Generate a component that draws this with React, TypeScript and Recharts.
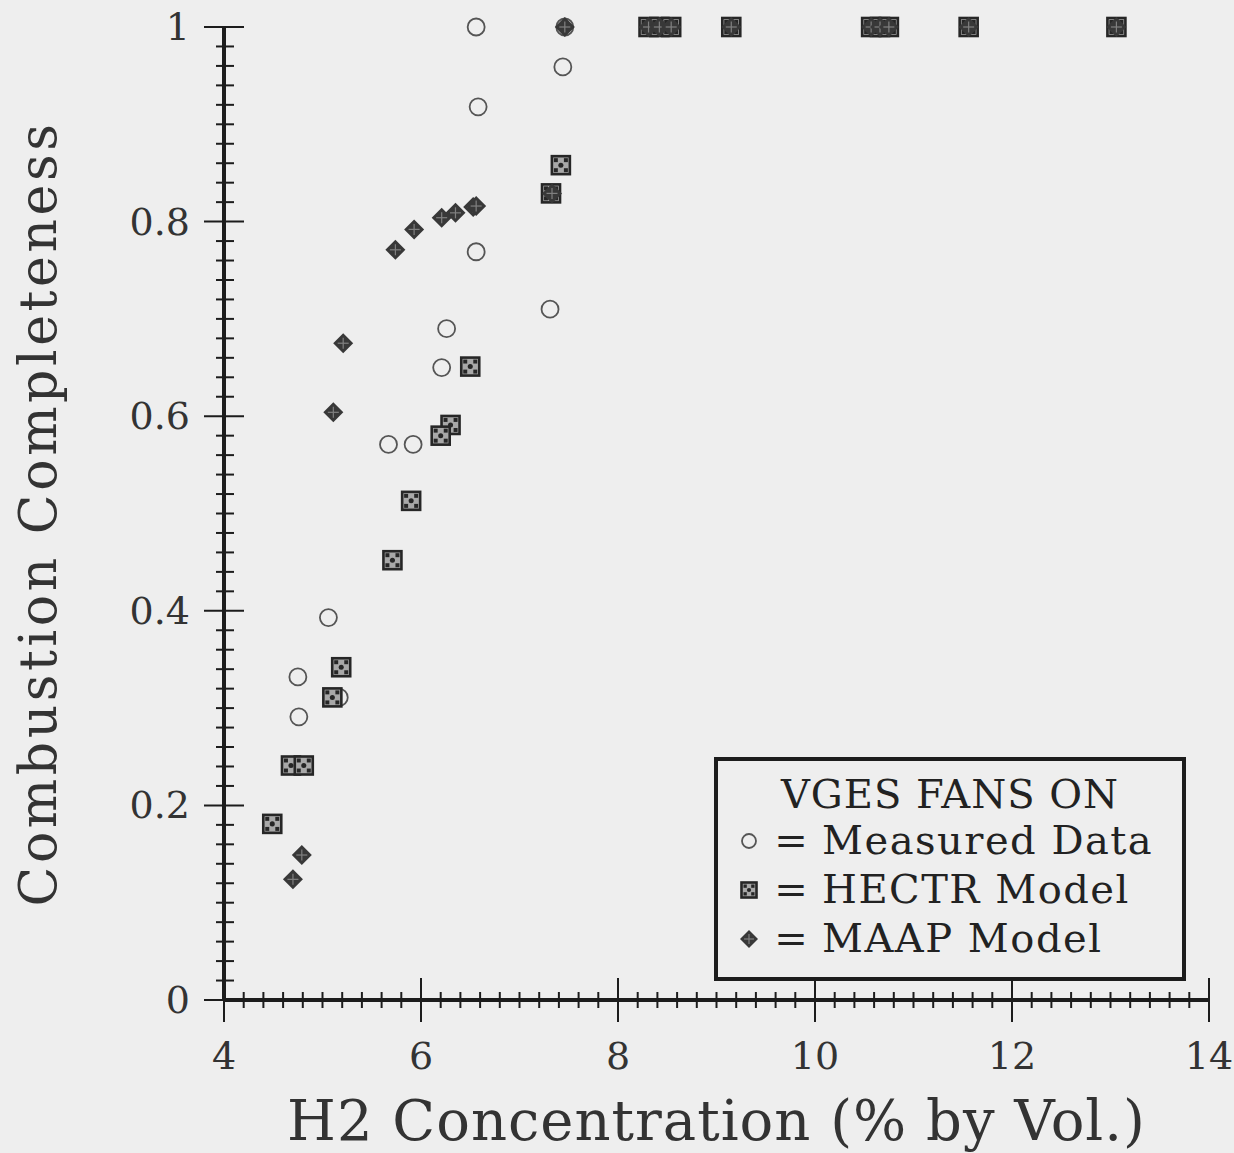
import React from 'react';
import { ScatterChart, Scatter, XAxis, YAxis, Legend } from 'recharts';

// H2 concentration (% by vol.) and combustion completeness for each series
const measuredX = [6.56, 7.46, 7.44, 6.58, 6.56, 7.31, 6.26, 6.21, 5.67, 5.92, 5.06, 4.75, 5.17, 4.76];
const measuredY = [1.0, 1.0, 0.959, 0.918, 0.769, 0.71, 0.69, 0.65, 0.571, 0.571, 0.393, 0.332, 0.311, 0.291];

const hectrX = [7.42, 7.32, 6.5, 6.3, 6.2, 5.9, 5.71, 5.19, 5.1, 4.68, 4.81, 4.49, 8.31, 8.42, 8.54, 9.15, 10.57, 10.66, 10.75, 11.56, 13.06];
const hectrY = [0.858, 0.829, 0.651, 0.591, 0.58, 0.513, 0.452, 0.342, 0.311, 0.241, 0.241, 0.181, 1, 1, 1, 1, 1, 1, 1, 1, 1];

const maapX = [7.46, 6.53, 6.56, 6.35, 6.21, 5.93, 5.74, 5.21, 5.11, 4.79, 4.7, 7.33, 8.31, 8.42, 8.54, 9.15, 10.57, 10.66, 10.75, 11.56, 13.06];
const maapY = [1, 0.815, 0.816, 0.809, 0.804, 0.792, 0.771, 0.675, 0.604, 0.149, 0.124, 0.829, 1, 1, 1, 1, 1, 1, 1, 1, 1];

const xLabelTicks = [4, 6, 8, 10, 12, 14];
const yLabelTicks = [0, 0.2, 0.4, 0.6, 0.8, 1];

const legendTitle = 'VGES FANS ON';
const seriesNames = ['Measured Data', 'HECTR Model', 'MAAP Model'];

const toPoints = (xs: number[], ys: number[]) => xs.map((x, i) => ({ x, y: ys[i] }));
const measured = toPoints(measuredX, measuredY);
const hectr = toPoints(hectrX, hectrY);
const maap = toPoints(maapX, maapY);

// minor tick positions: every 0.2 on x, every 0.02 on y
const xTicks = Array.from({ length: 51 }, (_, i) => Math.round((4 + i * 0.2) * 10) / 10);
const yTicks = Array.from({ length: 51 }, (_, i) => Math.round(i * 2) / 100);

const INK = '#1c1c1c';
const BG = '#eeeeee';
const FONT = '"DejaVu Serif", serif';

const isLabelX = (v: number) => xLabelTicks.some((t) => Math.abs(t - v) < 1e-6);
const isLabelY = (v: number) => yLabelTicks.some((t) => Math.abs(t - v) < 1e-6);

const CircleMark = ({ cx, cy, r = 8.5 }: any) => (
  <circle cx={cx} cy={cy} r={r} fill="none" stroke="#555" strokeWidth={1.8} />
);

const SquareMark = ({ cx, cy, s = 18 }: any) => {
  const h = s / 2;
  const d = s * 0.22;
  return (
    <g>
      <rect x={cx - h} y={cy - h} width={s} height={s} fill="#a8a8a8" stroke="#262626" strokeWidth={2.6} />
      <rect x={cx - h + 2} y={cy - h + 2} width={d} height={d} fill="#262626" />
      <rect x={cx + h - 2 - d} y={cy - h + 2} width={d} height={d} fill="#262626" />
      <rect x={cx - h + 2} y={cy + h - 2 - d} width={d} height={d} fill="#262626" />
      <rect x={cx + h - 2 - d} y={cy + h - 2 - d} width={d} height={d} fill="#262626" />
      <circle cx={cx} cy={cy} r={s * 0.14} fill="#262626" />
    </g>
  );
};

const DiamondMark = ({ cx, cy, s = 10 }: any) => (
  <g>
    <polygon points={`${cx},${cy - s} ${cx + s},${cy} ${cx},${cy + s} ${cx - s},${cy}`} fill="#383838" />
    <line x1={cx - s * 0.55} x2={cx + s * 0.55} y1={cy} y2={cy} stroke="#808080" strokeWidth={1.2} />
    <line x1={cx} x2={cx} y1={cy - s * 0.55} y2={cy + s * 0.55} stroke="#808080" strokeWidth={1.2} />
  </g>
);

const BottomTick = ({ x, y, payload }: any) => {
  const v = payload.value;
  const big = isLabelX(v);
  return (
    <g>
      <line x1={x} x2={x} y1={y - (big ? 22 : 8)} y2={y + (big ? 22 : 8)} stroke={INK} strokeWidth={2} />
      {big && (
        <text x={x} y={y + 69} textAnchor="middle" fontSize={38} fontFamily={FONT} fill="#333">
          {v}
        </text>
      )}
    </g>
  );
};

const TopTick = ({ x, y, payload }: any) => {
  const big = isLabelX(payload.value);
  return <line x1={x} x2={x} y1={y} y2={y + (big ? 22 : 11)} stroke={INK} strokeWidth={2} />;
};

const LeftTick = ({ x, y, payload }: any) => {
  const v = payload.value;
  const big = isLabelY(v);
  return (
    <g>
      <line x1={x - (big ? 20 : 8)} x2={x + (big ? 20 : 10)} y1={y} y2={y} stroke={INK} strokeWidth={2} />
      {big && (
        <text x={x - 34} y={y + 13} textAnchor="end" fontSize={38} fontFamily={FONT} fill="#333">
          {v}
        </text>
      )}
    </g>
  );
};

const RightTick = ({ x, y, payload }: any) => {
  const big = isLabelY(payload.value);
  return <line x1={x - (big ? 20 : 9)} x2={x} y1={y} y2={y} stroke={INK} strokeWidth={2} />;
};

const LegendBox = () => {
  const marks = [
    <CircleMark key="c" cx={35} cy={84} r={7} />,
    <SquareMark key="s" cx={35} cy={133} s={15} />,
    <DiamondMark key="d" cx={35} cy={182} s={9} />,
  ];
  return (
    <svg width={472} height={224} style={{ display: 'block' }}>
      <rect x={2} y={2} width={468} height={220} fill={BG} stroke={INK} strokeWidth={4} />
      <text x={236} y={51} textAnchor="middle" fontSize={40} letterSpacing={1} fontFamily={FONT} fill="#222">
        {legendTitle}
      </text>
      {seriesNames.map((name, i) => (
        <g key={name}>
          {marks[i]}
          <text x={77} y={97 + i * 49} textAnchor="middle" fontSize={40} fontFamily={FONT} fill="#222">
            =
          </text>
          <text x={108} y={97 + i * 49} fontSize={40} letterSpacing={1.5} fontFamily={FONT} fill="#222">
            {name}
          </text>
        </g>
      ))}
    </svg>
  );
};

export default function App() {
  return (
    <div style={{ position: 'absolute', left: 0, top: 0, width: 1234, height: 1153, background: BG }}>
      <ScatterChart width={1234} height={1153} margin={{ top: 27, right: 25, bottom: 0, left: 0 }}>
        <XAxis
          xAxisId="b"
          dataKey="x"
          type="number"
          domain={[4, 14]}
          ticks={xTicks}
          interval={0}
          height={153}
          tickSize={0}
          tickMargin={0}
          tickLine={false}
          axisLine={{ stroke: INK, strokeWidth: 4 }}
          tick={(p: any) => <BottomTick {...p} />}
          label={{
            value: 'H2 Concentration (% by Vol.)',
            position: 'insideBottom',
            offset: 13,
            style: { fontSize: 56, letterSpacing: 1, fontFamily: FONT, fill: '#333' },
          }}
        />
        <XAxis
          xAxisId="t"
          dataKey="x"
          type="number"
          orientation="top"
          domain={[4, 14]}
          ticks={xTicks}
          interval={0}
          height={0}
          tickSize={0}
          tickMargin={0}
          tickLine={false}
          axisLine={{ stroke: INK, strokeWidth: 4 }}
          tick={(p: any) => <TopTick {...p} />}
        />
        <YAxis
          yAxisId="l"
          dataKey="y"
          type="number"
          domain={[0, 1]}
          ticks={yTicks}
          interval={0}
          width={224}
          tickSize={0}
          tickMargin={0}
          tickLine={false}
          axisLine={{ stroke: INK, strokeWidth: 4 }}
          tick={(p: any) => <LeftTick {...p} />}
          label={{
            value: 'Combustion Completeness',
            angle: -90,
            position: 'insideLeft',
            offset: 38,
            style: { fontSize: 52, letterSpacing: 3.6, fontFamily: FONT, fill: '#333', textAnchor: 'middle' },
          }}
        />
        <YAxis
          yAxisId="r"
          dataKey="y"
          type="number"
          orientation="right"
          domain={[0, 1]}
          ticks={yTicks}
          interval={0}
          width={0}
          tickSize={0}
          tickMargin={0}
          tickLine={false}
          axisLine={{ stroke: INK, strokeWidth: 4 }}
          tick={(p: any) => <RightTick {...p} />}
        />
        <Scatter
          name={seriesNames[0]}
          data={measured}
          xAxisId="b"
          yAxisId="l"
          isAnimationActive={false}
          shape={(p: any) => <CircleMark cx={p.cx} cy={p.cy} />}
        />
        <Scatter
          name={seriesNames[1]}
          data={hectr}
          xAxisId="b"
          yAxisId="l"
          isAnimationActive={false}
          shape={(p: any) => <SquareMark cx={p.cx} cy={p.cy} />}
        />
        <Scatter
          name={seriesNames[2]}
          data={maap}
          xAxisId="b"
          yAxisId="l"
          isAnimationActive={false}
          shape={(p: any) => <DiamondMark cx={p.cx} cy={p.cy} />}
        />
        <Legend
          layout="vertical"
          align="center"
          verticalAlign="middle"
          wrapperStyle={{ left: 714, top: 757, width: 472, height: 224 }}
          content={() => <LegendBox />}
        />
      </ScatterChart>
    </div>
  );
}
